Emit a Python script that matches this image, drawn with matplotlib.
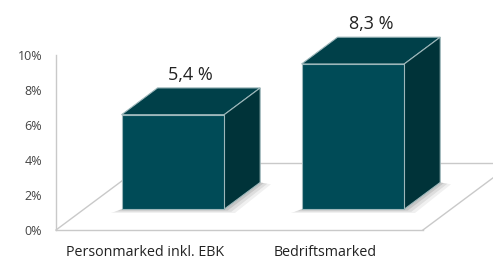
import matplotlib
matplotlib.use("Agg")
import matplotlib.pyplot as plt
from matplotlib.patches import Polygon

categories = ["Personmarked inkl. EBK", "Bedriftsmarked"]
values = [5.4, 8.3]
value_labels = ["5,4 %", "8,3 %"]
yticks = [0, 2, 4, 6, 8, 10]
ytick_labels = ["0%", "2%", "4%", "6%", "8%", "10%"]

plt.rcParams['font.family'] = ['Open Sans', 'DejaVu Sans']

W, H = 493, 259
fig = plt.figure(figsize=(W / 100, H / 100), dpi=100)
ax = fig.add_axes([56 / W, 29 / H, 437 / W, 175 / H])
ax.set_ylim(0, 10)
ax.set_xlim(-0.494, 1.933)

# depth projection (data units per unit of depth)
ddx, ddy = 0.5, 3.83
floor_left, floor_right = -0.494, 1.544
front_depth, back_depth = 0.31, 0.71
half_w = 0.285

line_col = "#c9c9c9"
# floor
ax.plot([floor_left, floor_right], [0, 0], color=line_col, lw=1, zorder=1, clip_on=False)
ax.plot([floor_left, floor_left + ddx], [0, ddy], color=line_col, lw=1, zorder=1, clip_on=False)
ax.plot([floor_right, floor_right + ddx], [0, ddy], color=line_col, lw=1, zorder=1, clip_on=False)
ax.plot([floor_left + ddx, floor_right + ddx], [ddy, ddy], color=line_col, lw=1, zorder=1, clip_on=False)

front_c = "#004b57"
top_c = "#004049"
side_c = "#003339"
edge_c = "#9db7ba"

bdx = (back_depth - front_depth) * ddx
bdy = (back_depth - front_depth) * ddy
for i, v in enumerate(values):
    c = i + front_depth * ddx
    x0, x1 = c - half_w, c + half_w
    bot = front_depth * ddy
    top = bot + v
    # shadow
    for k, a in enumerate([0.06, 0.08, 0.10]):
        e = 0.02 * (3 - k)
        ey = 0.12 * (3 - k)
        sh = Polygon([(x0 - e, bot - ey * 0.6), (x1 + e, bot - ey * 0.6),
                      (x1 + bdx + e, bot + bdy - ey * 0.3), (x1 + bdx, bot + bdy),
                      (x0, bot)],
                     closed=True, facecolor="black", alpha=a, lw=0, zorder=2, clip_on=False)
        ax.add_patch(sh)
    front = Polygon([(x0, bot), (x1, bot), (x1, top), (x0, top)], closed=True,
                    facecolor=front_c, edgecolor=edge_c, lw=0.8, zorder=4, clip_on=False)
    topf = Polygon([(x0, top), (x1, top), (x1 + bdx, top + bdy), (x0 + bdx, top + bdy)],
                   closed=True, facecolor=top_c, edgecolor=edge_c, lw=0.8, zorder=3, clip_on=False)
    side = Polygon([(x1, bot), (x1 + bdx, bot + bdy), (x1 + bdx, top + bdy), (x1, top)],
                   closed=True, facecolor=side_c, edgecolor=edge_c, lw=0.8, zorder=3, clip_on=False)
    for p in (topf, side, front):
        ax.add_patch(p)
    ax.annotate(value_labels[i], (c + bdx / 2, top + bdy), xytext=(0, 4),
                textcoords="offset pixels", ha="center", va="bottom",
                fontsize=13, color="#222222", annotation_clip=False)
    ax.annotate(categories[i], (i, 0), xytext=(0, -22), textcoords="offset pixels",
                ha="center", va="center", fontsize=10.3, color="#222222",
                annotation_clip=False)

for s in ["top", "right", "bottom"]:
    ax.spines[s].set_visible(False)
ax.spines["left"].set_color(line_col)
ax.spines["left"].set_linewidth(1)
ax.set_xticks([])
ax.set_yticks(yticks)
ax.set_yticklabels(ytick_labels)
ax.tick_params(axis="y", length=0, pad=10, labelsize=9, labelcolor="#444444")
ax.patch.set_alpha(0)

fig.savefig("out.png", dpi=100)
